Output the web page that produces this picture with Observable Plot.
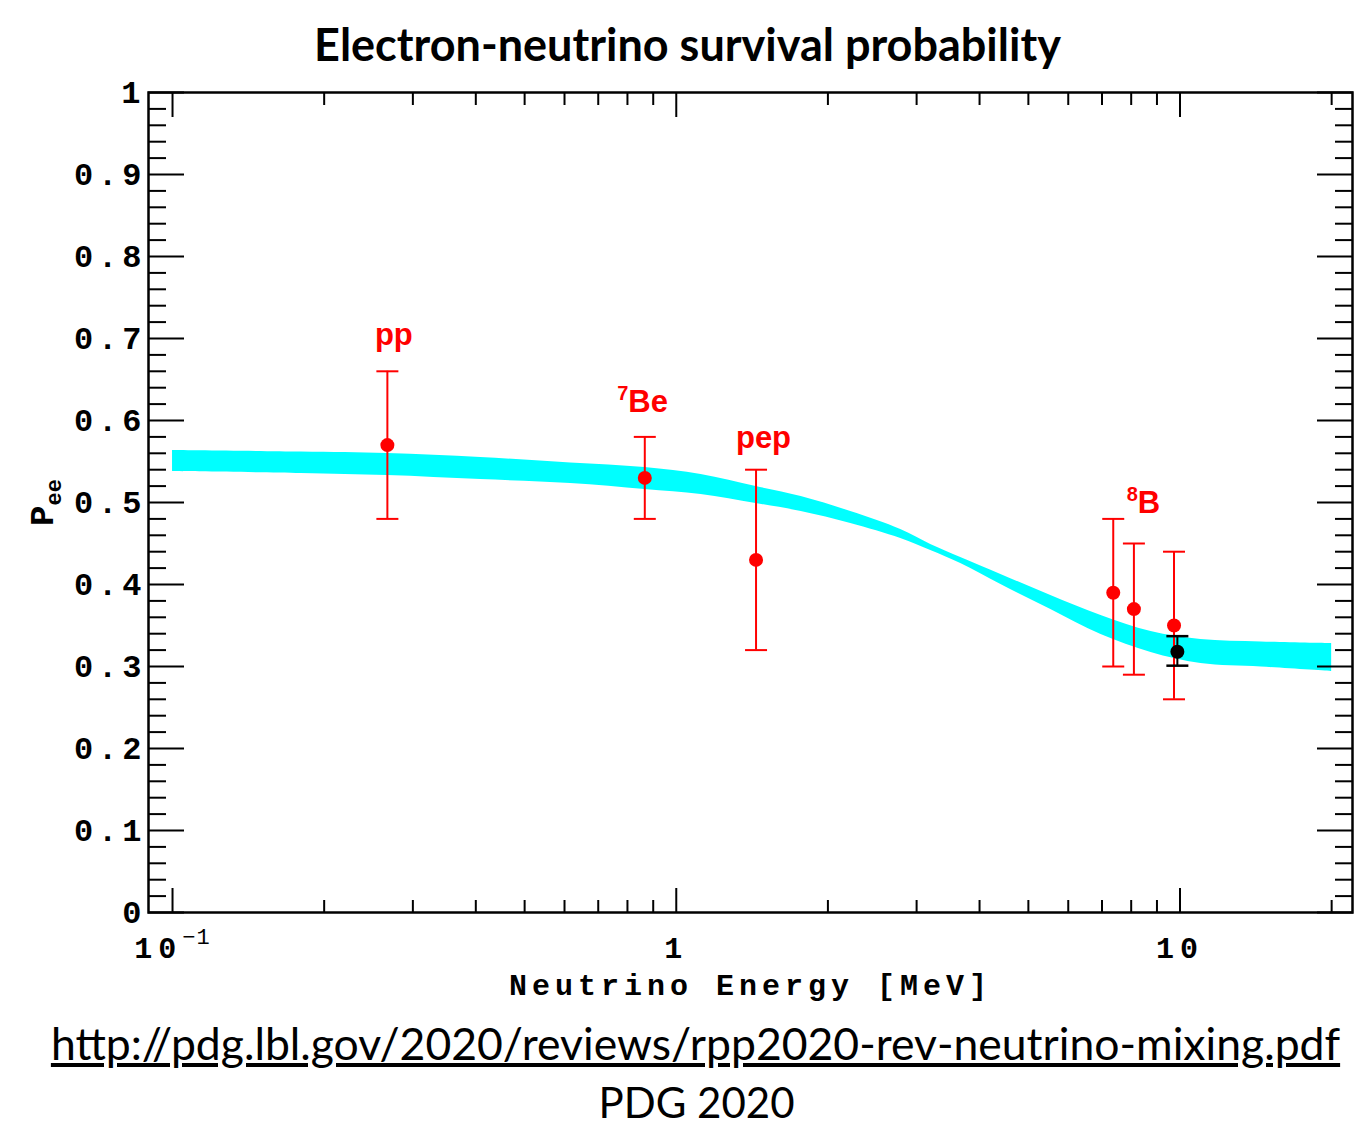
<!DOCTYPE html>
<html>
<head>
<meta charset="utf-8">
<script src="https://cdn.jsdelivr.net/npm/d3@7"></script>
<script src="https://cdn.jsdelivr.net/npm/@observablehq/plot@0.6"></script>
<style>
  body { margin: 0; background: #fff; }
  #page { position: relative; width: 1355px; height: 1133px; overflow: hidden; }
  #title { position: absolute; left: 10px; top: 22px; width: 1355px; text-align: center;
           font: bold 45px Lato, "Open Sans", sans-serif; line-height: 45px; color: #000; }
  #chart { position: absolute; left: 0; top: 80px; }
  #url { position: absolute; left: 18px; top: 1021px; width: 1355px; text-align: center;
         font: 44.5px Lato, "Open Sans", sans-serif; line-height: 44.5px; text-decoration: underline; color: #000; }
  #src { position: absolute; left: 19px; top: 1081px; width: 1355px; text-align: center;
         font: 42px Lato, "Open Sans", sans-serif; line-height: 42px; color: #000; }
</style>
</head>
<body>
<div id="page">
  <div id="title">Electron-neutrino survival probability</div>
  <div id="chart"></div>
  <div id="url">http://pdg.lbl.gov/2020/reviews/rpp2020-rev-neutrino-mixing.pdf</div>
  <div id="src">PDG 2020</div>
</div>
<script>
// ---------- data ----------
const xMajorTicks = [0.1, 1, 10];
const xMajorLabels = ["10^-1", "1", "10"];
const xMinorTicks = [0.2, 0.3, 0.4, 0.5, 0.6, 0.7, 0.8, 0.9, 2, 3, 4, 5, 6, 7, 8, 9, 20];
const yMajorTicks = [0, 0.1, 0.2, 0.3, 0.4, 0.5, 0.6, 0.7, 0.8, 0.9, 1];
const yMajorLabels = ["0", "0.1", "0.2", "0.3", "0.4", "0.5", "0.6", "0.7", "0.8", "0.9", "1"];
const yMinorTicks = [0.02, 0.04, 0.06, 0.08, 0.12, 0.14, 0.16, 0.18, 0.22, 0.24, 0.26, 0.28,
  0.32, 0.34, 0.36, 0.38, 0.42, 0.44, 0.46, 0.48, 0.52, 0.54, 0.56, 0.58, 0.62, 0.64, 0.66, 0.68,
  0.72, 0.74, 0.76, 0.78, 0.82, 0.84, 0.86, 0.88, 0.92, 0.94, 0.96, 0.98];

// MSW band (theory prediction), lower and upper edges
const bandEnergy = [0.1, 0.18, 0.267, 0.409, 0.617, 0.866, 1.12, 1.44, 1.77, 2.22, 2.79, 3.2, 3.67, 4.41, 5.54, 6.97, 8.76, 11.0, 14.5, 20];
const bandLow    = [0.5378, 0.5354, 0.5329, 0.5280, 0.5232, 0.5159, 0.5098, 0.4988, 0.4890, 0.4744, 0.4561, 0.4415, 0.4256, 0.4000, 0.3695, 0.3390, 0.3171, 0.3037, 0.2994, 0.2939];
const bandHigh   = [0.5634, 0.5616, 0.5598, 0.5549, 0.5482, 0.5427, 0.5341, 0.5195, 0.5073, 0.4890, 0.4671, 0.4488, 0.4329, 0.4122, 0.3866, 0.3622, 0.3427, 0.3329, 0.3299, 0.3280];

// Solar neutrino measurements (red)
const sourceEnergy = [0.267, 0.866, 1.44, 7.37, 8.1, 9.73];
const sourcePee    = [0.57, 0.53, 0.43, 0.39, 0.37, 0.35];
const sourceLow    = [0.48, 0.48, 0.32, 0.30, 0.29, 0.26];
const sourceHigh   = [0.66, 0.58, 0.54, 0.48, 0.45, 0.44];

// Black point
const blackEnergy = [9.88];
const blackPee    = [0.318];
const blackLow    = [0.301];
const blackHigh   = [0.337];

// Source labels
const labelText   = ["pp", "7Be", "pep", "8B"];
const labelEnergy = [0.275, 0.857, 1.49, 8.46];
const labelPee    = [0.704, 0.623, 0.578, 0.499];

const xTitle = "Neutrino Energy [MeV]";
const yTitle = "Pee";

// ---------- build ----------
const band = bandEnergy.map((e, i) => ({e, lo: bandLow[i], hi: bandHigh[i]}));
const pts = sourceEnergy.map((e, i) => ({e, p: sourcePee[i], lo: sourceLow[i], hi: sourceHigh[i]}));
const blk = blackEnergy.map((e, i) => ({e, p: blackPee[i], lo: blackLow[i], hi: blackHigh[i]}));
const labels = labelText.map((t, i) => ({t, e: labelEnergy[i], p: labelPee[i]}));

const capSymbol = {
  draw(ctx, size) { const w = Math.sqrt(size / Math.PI); ctx.moveTo(-w, 0); ctx.lineTo(w, 0); }
};
const mono = "'Liberation Mono', 'Courier New', monospace";
const sans = "'Liberation Sans', Arial, sans-serif";
const RED = "#ff0000";

const chart = Plot.plot({
  width: 1355, height: 930,
  marginTop: 12, marginBottom: 98, marginLeft: 148, marginRight: 3,
  x: {type: "log", domain: [0.0896, 22], label: null},
  y: {domain: [0, 1], label: null},
  style: {background: "white", overflow: "visible"},
  marks: [
    Plot.areaY(band, {x: "e", y1: "lo", y2: "hi", fill: "#00ffff", curve: "catmull-rom"}),

    // inward ticks
    Plot.axisX({ticks: xMinorTicks, anchor: "bottom", tickSize: -12, tickFormat: () => "", strokeWidth: 2, label: null}),
    Plot.axisX({ticks: xMajorTicks, anchor: "bottom", tickSize: -24, tickFormat: () => "", strokeWidth: 2, label: null}),
    Plot.axisX({ticks: xMinorTicks, anchor: "top", tickSize: -12, tickFormat: () => "", strokeWidth: 2, label: null}),
    Plot.axisX({ticks: xMajorTicks, anchor: "top", tickSize: -24, tickFormat: () => "", strokeWidth: 2, label: null}),
    Plot.axisY({ticks: yMinorTicks, anchor: "left", tickSize: -18, tickFormat: () => "", strokeWidth: 2, label: null}),
    Plot.axisY({ticks: yMajorTicks, anchor: "left", tickSize: -36, tickFormat: () => "", strokeWidth: 2, label: null}),
    Plot.axisY({ticks: yMinorTicks, anchor: "right", tickSize: -18, tickFormat: () => "", strokeWidth: 2, label: null}),
    Plot.axisY({ticks: yMajorTicks, anchor: "right", tickSize: -36, tickFormat: () => "", strokeWidth: 2, label: null}),

    // error bars (red)
    Plot.ruleX(pts, {x: "e", y1: "lo", y2: "hi", stroke: RED, strokeWidth: 2}),
    Plot.dot(pts, {x: "e", y: "lo", symbol: capSymbol, r: 11, stroke: RED, strokeWidth: 2, fill: "none"}),
    Plot.dot(pts, {x: "e", y: "hi", symbol: capSymbol, r: 11, stroke: RED, strokeWidth: 2, fill: "none"}),
    Plot.dot(pts, {x: "e", y: "p", r: 7, fill: RED, stroke: "none"}),

    // black point
    Plot.ruleX(blk, {x: "e", y1: "lo", y2: "hi", stroke: "black", strokeWidth: 2}),
    Plot.dot(blk, {x: "e", y: "lo", symbol: capSymbol, r: 11, stroke: "black", strokeWidth: 2.5, fill: "none"}),
    Plot.dot(blk, {x: "e", y: "hi", symbol: capSymbol, r: 11, stroke: "black", strokeWidth: 2.5, fill: "none"}),
    Plot.dot(blk, {x: "e", y: "p", r: 7, fill: "black", stroke: "none"}),

    Plot.frame({stroke: "black", strokeWidth: 2.5}),

    // source labels
    Plot.text(labels, {x: "e", y: "p", text: "t", fill: RED, fontFamily: sans, fontWeight: "bold", fontSize: 31}),

    // tick labels
    Plot.text(yMajorTicks, {y: d => d, text: (d, i) => yMajorLabels[i], frameAnchor: "left", textAnchor: "end",
      lineAnchor: "middle", dx: -2, fontFamily: mono, fontWeight: "bold", fontSize: 32, fill: "black"}),
    Plot.text(xMajorTicks, {x: d => d, text: (d, i) => xMajorLabels[i], frameAnchor: "bottom", lineAnchor: "middle",
      textAnchor: "middle", dy: 36, fontFamily: mono, fontWeight: "bold", fontSize: 30, fill: "black"}),

    // axis titles
    Plot.text([xTitle], {text: d => d, frameAnchor: "bottom", lineAnchor: "middle", textAnchor: "middle", dy: 73,
      fontFamily: mono, fontWeight: "bold", fontSize: 30, fill: "black"}),
    Plot.text([yTitle], {text: d => d, frameAnchor: "left", textAnchor: "middle", lineAnchor: "middle",
      dx: -106, rotate: -90, fontFamily: mono, fontWeight: "bold", fontSize: 34, fill: "black"})
  ]
});

// letter spacing of the monospaced labels
chart.querySelectorAll("text").forEach(t => {
  const s = t.textContent;
  if (t.children.length) return;
  if (yMajorLabels.includes(s)) t.setAttribute("letter-spacing", 5);
  if (xMajorLabels.includes(s)) t.setAttribute("letter-spacing", 6);
  else if (s === xTitle) t.setAttribute("letter-spacing", 5);
});

// rich text (superscripts / subscripts)
function rich(svg, key, parts) {
  svg.querySelectorAll("text").forEach(t => {
    if (t.textContent !== key || t.children.length) return;
    t.textContent = "";
    parts.forEach(p => {
      const s = document.createElementNS("http://www.w3.org/2000/svg", "tspan");
      s.textContent = p.t;
      if (p.size) s.setAttribute("font-size", p.size);
      if (p.dy) s.setAttribute("dy", p.dy);
      if (p.weight) s.setAttribute("font-weight", p.weight);
      if (p.ls != null) s.setAttribute("letter-spacing", p.ls);
      t.appendChild(s);
    });
  });
}
rich(chart, "7Be", [{t: "7", size: 20, dy: -12}, {t: "Be", dy: 12}]);
rich(chart, "8B", [{t: "8", size: 20, dy: -12}, {t: "B", dy: 12}]);
rich(chart, "10^-1", [{t: "10"}, {t: "\u22121", size: 22, dy: -14, weight: "normal", ls: 1}]);
rich(chart, "Pee", [{t: "P"}, {t: "ee", size: 22, dy: 8}]);

document.getElementById("chart").appendChild(chart);
</script>
</body>
</html>
